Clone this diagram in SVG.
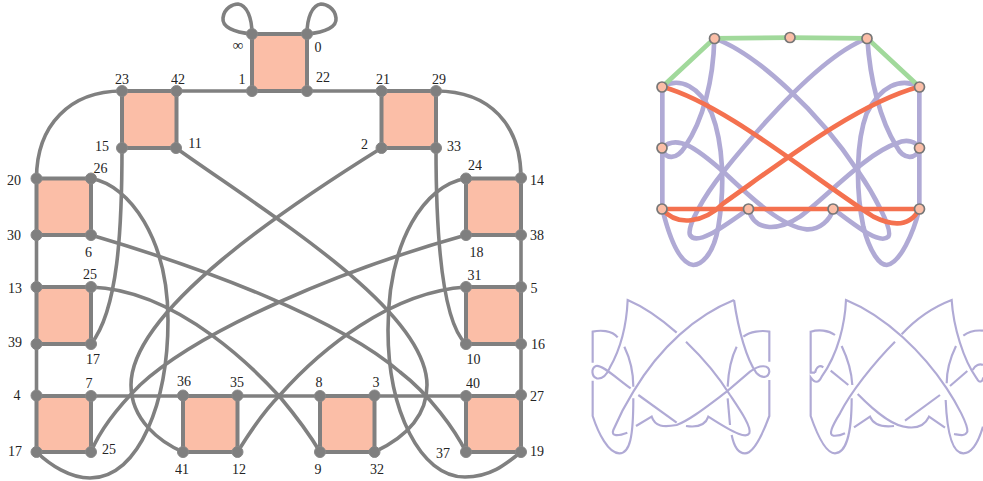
<svg xmlns="http://www.w3.org/2000/svg" width="983" height="481" viewBox="0 0 983 481">
<style>
text{font-family:"Liberation Serif","Times New Roman",serif;font-size:14px;fill:#222;text-anchor:middle;opacity:.99}
.sq{fill:#fbbea7;stroke:#808080;stroke-width:4}
.p{fill:#7f7f7f;stroke:#888;stroke-width:1}
.e{fill:none;stroke:#808080;stroke-width:3.600}
.v{fill:#fbbea7;stroke:#777;stroke-width:1.700}
.g{fill:none;stroke:#a1d99b;stroke-width:14}
.u{fill:none;stroke:#b0aad5;stroke-width:14}
.r{fill:none;stroke:#f4714f;stroke-width:14}
.k{fill:none;stroke:#b0aad5;stroke-width:6.500}
</style>
<rect width="983" height="481" fill="#fff"/>
<g id="connectors">
<path class="e" d="M252,34C233,32 222,27 223,18C224,8 233,4 238,4C247,5 252,18 252,34"/>
<path class="e" d="M307,34C326,32 337,27 336,18C335,8 326,4 321,4C312,5 307,18 307,34"/>
<path class="e" d="M176,91H252M307,91H381.500M91,396H183M237.500,396H320M374.500,396H466M36.500,235V287M36.500,344V396M521,235V287M521,344V395"/>
<path class="e" d="M122,91C70,91 36.500,125 36.500,178.500"/>
<path class="e" d="M436,91C490,91 521,125 521,178"/>
<path class="e" d="M122,148C122,230 118,310 91,344"/>
<path class="e" d="M436,148C436,220 440,320 466,344"/>
<path class="e" d="M176,148C270,215 427,310 427,385C427,420 400,440 374.500,452"/>
<path class="e" d="M381.500,148C290,205 131,310 131,385C131,420 160,442 183,452"/>
<path class="e" d="M91,178.500C130,185 168,240 168,320C168,400 140,478 90,478C70,478 50,465 36.500,452"/>
<path class="e" d="M466,178.500C425,185 388,240 388,330C388,410 420,477 465,477C490,477 505,465 521,452"/>
<path class="e" d="M91,235C210,270 340,320 400,372C430,395 455,430 466,452"/>
<path class="e" d="M466,235C340,270 200,330 140,385C120,405 100,430 91,452"/>
<path class="e" d="M91,287C180,290 260,375 280,397C295,415 310,435 320,452"/>
<path class="e" d="M466,287C390,292 320,350 280,395C265,410 248,435 237.500,452"/>
</g>
<g id="n-top"><rect class="sq" x="252" y="34" width="55" height="57"/><circle class="p" cx="252" cy="34" r="5.500"/><circle class="p" cx="307" cy="34" r="5.500"/><circle class="p" cx="252" cy="91" r="5.500"/><circle class="p" cx="307" cy="91" r="5.500"/><text x="238" y="50" style="font-size:15px">∞</text><text x="318" y="52">0</text><text x="242" y="84">1</text><text x="323" y="82">22</text></g>
<g id="n-23"><rect class="sq" x="122" y="91" width="54.500" height="57"/><circle class="p" cx="122" cy="91" r="5.500"/><circle class="p" cx="176.500" cy="91" r="5.500"/><circle class="p" cx="122" cy="148" r="5.500"/><circle class="p" cx="176" cy="148" r="5.500"/><text x="122" y="84">23</text><text x="178" y="84">42</text><text x="102" y="151">15</text><text x="195" y="148">11</text></g>
<g id="n-21"><rect class="sq" x="381.500" y="91" width="54.500" height="57"/><circle class="p" cx="381.500" cy="91" r="5.500"/><circle class="p" cx="436" cy="91" r="5.500"/><circle class="p" cx="381.500" cy="148" r="5.500"/><circle class="p" cx="436" cy="148" r="5.500"/><text x="383" y="84">21</text><text x="439" y="84">29</text><text x="364.500" y="149">2</text><text x="454" y="151">33</text></g>
<g id="n-20"><rect class="sq" x="36.500" y="178.500" width="54.500" height="56.500"/><circle class="p" cx="36.500" cy="178.500" r="5.500"/><circle class="p" cx="91" cy="178.500" r="5.500"/><circle class="p" cx="36.500" cy="235" r="5.500"/><circle class="p" cx="91" cy="235" r="5.500"/><text x="14" y="185">20</text><text x="100.500" y="173">26</text><text x="14" y="240">30</text><text x="88.500" y="257">6</text></g>
<g id="n-24"><rect class="sq" x="466" y="178.500" width="55" height="56.500"/><circle class="p" cx="466" cy="178.500" r="5.500"/><circle class="p" cx="521" cy="178" r="5.500"/><circle class="p" cx="466" cy="235" r="5.500"/><circle class="p" cx="521" cy="235" r="5.500"/><text x="475" y="170">24</text><text x="537" y="185">14</text><text x="476.500" y="257">18</text><text x="537" y="240">38</text></g>
<g id="n-13"><rect class="sq" x="36.500" y="287" width="54.500" height="57"/><circle class="p" cx="36.500" cy="287" r="5.500"/><circle class="p" cx="91" cy="287" r="5.500"/><circle class="p" cx="36.500" cy="344" r="5.500"/><circle class="p" cx="91" cy="344" r="5.500"/><text x="15" y="293">13</text><text x="90" y="279">25</text><text x="15" y="347">39</text><text x="93" y="364">17</text></g>
<g id="n-31"><rect class="sq" x="466" y="287" width="55" height="57"/><circle class="p" cx="466" cy="287" r="5.500"/><circle class="p" cx="521" cy="287" r="5.500"/><circle class="p" cx="466" cy="344" r="5.500"/><circle class="p" cx="521" cy="344" r="5.500"/><text x="474.500" y="280">31</text><text x="534" y="293">5</text><text x="473.500" y="364">10</text><text x="538" y="349">16</text></g>
<g id="n-4"><rect class="sq" x="36.500" y="396" width="54.500" height="56"/><circle class="p" cx="36.500" cy="395.500" r="5.500"/><circle class="p" cx="91" cy="396" r="5.500"/><circle class="p" cx="36.500" cy="452" r="5.500"/><circle class="p" cx="91" cy="452" r="5.500"/><text x="17" y="400">4</text><text x="89" y="388">7</text><text x="15" y="456">17</text><text x="109" y="454">25</text></g>
<g id="n-36"><rect class="sq" x="183" y="396" width="54.500" height="56"/><circle class="p" cx="183" cy="395.500" r="5.500"/><circle class="p" cx="237.500" cy="395.500" r="5.500"/><circle class="p" cx="183" cy="452" r="5.500"/><circle class="p" cx="237.500" cy="452" r="5.500"/><text x="184" y="386">36</text><text x="237" y="387">35</text><text x="182" y="474">41</text><text x="239" y="474">12</text></g>
<g id="n-8"><rect class="sq" x="320" y="396" width="54.500" height="56"/><circle class="p" cx="320" cy="396" r="5.500"/><circle class="p" cx="374.500" cy="395.500" r="5.500"/><circle class="p" cx="320" cy="452" r="5.500"/><circle class="p" cx="374.500" cy="452" r="5.500"/><text x="319" y="387">8</text><text x="376" y="387">3</text><text x="318" y="474">9</text><text x="377" y="474">32</text></g>
<g id="n-40"><rect class="sq" x="466" y="396" width="55" height="56"/><circle class="p" cx="466" cy="396" r="5.500"/><circle class="p" cx="521" cy="395" r="5.500"/><circle class="p" cx="466" cy="452" r="5.500"/><circle class="p" cx="521" cy="452" r="5.500"/><text x="473" y="388">40</text><text x="537" y="401">27</text><text x="443" y="458">37</text><text x="537" y="456">19</text></g>
<g id="graph-edges" transform="translate(640 20) scale(.33333)">
<path class="u" d="M67,200V567M838,200V567"/>
<path class="u" d="M223,55C220,180 190,300 135,380C110,420 75,420 67,384"/>
<path class="u" d="M67,384C110,340 170,385 250,455C320,520 420,620 500,628C540,630 570,600 580,567"/>
<path class="u" d="M67,200C120,170 180,200 215,280C250,370 255,500 235,620C220,710 180,735 160,735C115,730 85,640 67,567"/>
<path class="u" d="M682,55C560,100 400,270 250,455C190,530 140,620 150,645C170,680 250,620 325,567"/>
<path class="u" d="M325,567C345,640 420,630 480,590C560,530 680,400 770,370C800,355 830,365 838,384"/>
<path class="u" d="M223,55C350,100 540,280 655,455C700,520 760,630 745,650C720,675 650,620 580,567"/>
<path class="u" d="M682,55C690,180 720,300 770,380C790,420 830,420 838,384"/>
<path class="u" d="M838,200C780,170 720,200 680,280C650,360 645,500 670,620C690,700 720,735 740,735C780,730 820,640 838,567"/>
<path class="g" d="M67,200L223,55L450,53L682,55L838,200"/>
<path class="r" d="M67,200C250,250 500,460 700,590C760,620 810,620 838,567"/>
<path class="r" d="M838,200C650,250 420,430 250,550C190,610 110,620 67,567"/>
<path class="r" d="M67,567H838"/>
</g>
<g id="v1"><circle class="v" cx="714.500" cy="38.500" r="5"/></g>
<g id="v2"><circle class="v" cx="790" cy="37.500" r="5"/></g>
<g id="v3"><circle class="v" cx="867" cy="38.500" r="5"/></g>
<g id="v4"><circle class="v" cx="662" cy="87" r="5"/></g>
<g id="v5"><circle class="v" cx="919.500" cy="87" r="5"/></g>
<g id="v6"><circle class="v" cx="662" cy="148" r="5"/></g>
<g id="v7"><circle class="v" cx="919.500" cy="148" r="5"/></g>
<g id="v8"><circle class="v" cx="662" cy="209" r="5"/></g>
<g id="v9"><circle class="v" cx="748.500" cy="209" r="5"/></g>
<g id="v10"><circle class="v" cx="833" cy="209" r="5"/></g>
<g id="v11"><circle class="v" cx="919.500" cy="209" r="5"/></g>
<g id="knot-left" transform="translate(580 290) scale(.33333)">
<path class="k" d="M290,128C230,75 190,50 143,30C140,100 125,170 90,232C80,255 65,268 50,265C35,260 32,235 48,228C65,222 110,265 152,295"/>
<path class="k" d="M38,218V125C60,120 95,120 113,142"/>
<path class="k" d="M133,170C150,205 160,250 160,290"/>
<path class="k" d="M38,272V378C55,430 85,490 118,490C150,490 160,440 160,325"/>
<path class="k" d="M462,30C350,75 240,170 160,305C135,345 115,385 100,420C92,440 115,438 142,428"/>
<path class="k" d="M168,408L215,380C225,410 250,412 290,405C330,390 380,350 440,305L510,245C540,222 568,225 568,245C565,265 545,265 530,250C500,210 475,120 462,30"/>
<path class="k" d="M175,315L290,398"/>
<path class="k" d="M318,408C345,412 375,410 385,380C470,435 500,445 508,430C515,410 480,360 450,315C410,250 370,205 318,155"/>
<path class="k" d="M568,215V125C545,120 510,125 490,140"/>
<path class="k" d="M470,170C455,200 445,250 443,290"/>
<path class="k" d="M443,325L450,405"/>
<path class="k" d="M568,270V378C545,440 520,490 495,490C470,490 460,460 455,435"/>
</g>
<g id="knot-right" transform="translate(790 290) scale(.33333)">
<path class="k" d="M492,432C510,435 525,440 532,425C535,405 500,340 470,295C400,190 290,80 168,30C165,100 145,190 95,260C85,280 75,280 62,262V378C80,430 105,490 135,490C165,490 185,440 185,325"/>
<path class="k" d="M75,248C80,228 90,225 100,232M75,248H62V125C85,118 115,120 135,135"/>
<path class="k" d="M155,168C175,210 185,250 187,285"/>
<path class="k" d="M122,242L175,285"/>
<path class="k" d="M335,133C370,95 420,55 485,30C490,110 520,210 560,265C570,285 580,270 579,262"/>
<path class="k" d="M315,155C250,220 180,310 150,370C125,410 115,435 130,437C145,438 155,435 165,430"/>
<path class="k" d="M192,412L240,380C250,405 275,412 312,408"/>
<path class="k" d="M203,312C260,370 310,410 355,412C385,415 405,405 417,380L465,413"/>
<path class="k" d="M345,392L450,315"/>
<path class="k" d="M480,288L532,243"/>
<path class="k" d="M579,225C570,220 555,225 548,240"/>
<path class="k" d="M520,137C540,122 560,120 579,122"/>
<path class="k" d="M498,168C480,205 470,245 470,280"/>
<path class="k" d="M467,330C470,400 480,490 520,490C550,490 570,440 579,410"/>
</g>
</svg>
